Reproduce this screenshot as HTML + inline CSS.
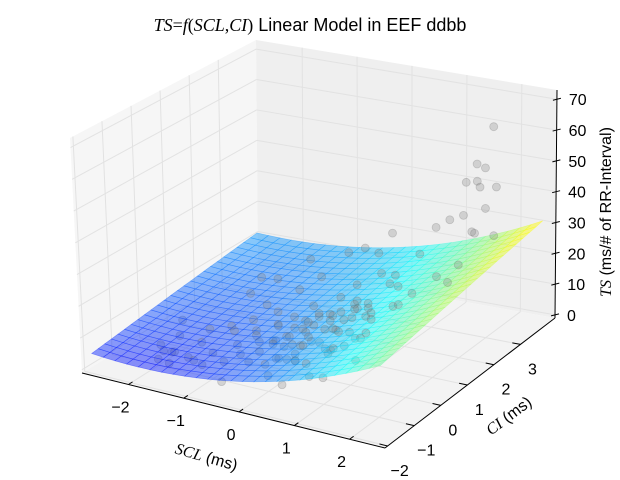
<!DOCTYPE html>
<html><head><meta charset="utf-8"><style>
html,body{margin:0;padding:0;background:#fff}
svg{display:block}
text{font-family:"Liberation Sans",sans-serif;fill:#000}
</style></head><body>
<svg id="chart" width="620" height="480" viewBox="0 0 620 480">
<text x="310" y="31" text-anchor="middle" font-size="18"><tspan font-family="Liberation Serif,serif" font-style="italic">TS</tspan><tspan font-family="Liberation Serif,serif">=</tspan><tspan font-family="Liberation Serif,serif" font-style="italic">f</tspan><tspan font-family="Liberation Serif,serif">(</tspan><tspan font-family="Liberation Serif,serif" font-style="italic">SCL</tspan><tspan font-family="Liberation Serif,serif">,</tspan><tspan font-family="Liberation Serif,serif" font-style="italic">CI</tspan><tspan font-family="Liberation Serif,serif">)</tspan> Linear Model in EEF ddbb</text>
<g id="layer"></g>
<text transform="translate(205,462) rotate(16)" text-anchor="middle" font-size="16"><tspan font-family="Liberation Serif,serif" font-style="italic">SCL</tspan> (ms)</text>
<text transform="translate(512,420) rotate(-37)" text-anchor="middle" font-size="16"><tspan font-family="Liberation Serif,serif" font-style="italic">CI</tspan> (ms)</text>
<text transform="translate(611,212) rotate(-90)" text-anchor="middle" font-size="16"><tspan font-family="Liberation Serif,serif" font-style="italic">TS</tspan> (ms/# of RR-Interval)</text>
</svg>
<script>
const xTicks=[-2,-1,0,1,2];
const yTicks=[-2,-1,0,1,2,3];
const zTicks=[0,10,20,30,40,50,60,70];
const modelCoef=[9.7,3.8,1.3,0.96,0.0,0.08]; // c0 + c1 x + c2 y + c3 x^2 + c4 y^2 + c5 xy
const surfX=[-2.75,2.5];
const surfY=[-1.9,4.1];
const sclVals=[-2.2,-2.0,-1.8,-1.6,-1.5,-1.3,-1.2,-1.1,-1.0,-0.9,-0.8,-0.7,-0.6,-0.5,-0.4,-0.3,-0.2,-0.1,0.0,0.1,0.2,0.3,0.4,0.5,0.6,0.7,0.8,0.9,1.0,1.1,1.2,-1.4,-1.0,-0.6,-0.2,0.2,0.6,1.0,-0.8,-0.4,0.0,0.4,0.8,-1.2,-0.5,0.3,0.9,1.3,1.5,1.7,1.9,2.0,2.1,2.2,1.8,1.6,1.4,2.0,2.2,1.9,1.7,2.1,1.5,1.2,0.8,0.4,-0.3,-0.9,-1.6,-2.3,0.5,0.9,1.3,1.6,1.0,0.2,-0.5,-1.1,0.7,1.1,1.8,2.3,1.4,0.1,-0.7,1.9,2.2,1.6,0.3,-0.1,
-0.3,-0.1,0.1,0.3,0.5,-0.2,0.0,0.2,0.4,0.6,0.8,-0.4,0.1,0.3,0.5,0.7,0.9,-0.6,-0.2,0.2,0.4,0.6,1.0,1.2,-2.0,-1.9,-1.7,-1.5,-1.3,-2.1,0.0,0.2,0.4,-0.1,1.1,1.3,0.9,0.7,-0.5,-0.8];
const ciVals=[-0.5,-0.2,-0.8,0.1,-0.4,0.3,-0.6,0.0,0.5,-0.3,0.2,0.8,-0.1,0.4,-0.5,0.6,0.1,-0.2,0.3,0.7,-0.4,0.0,0.5,-0.1,0.3,0.8,-0.3,0.2,0.6,0.0,0.4,1.2,1.0,1.4,1.1,1.3,1.0,1.5,-1.0,-0.9,-1.1,-0.8,-1.2,1.8,2.0,1.7,1.9,1.2,0.6,0.9,1.4,2.5,2.8,3.0,2.6,3.1,2.4,3.3,2.2,2.9,3.4,1.8,2.7,2.2,1.6,2.3,2.6,2.4,2.0,0.5,-1.5,-1.3,-1.6,-1.0,-0.6,-1.4,-1.7,-1.2,0.9,0.5,0.2,1.0,-0.2,0.7,0.0,3.2,2.9,3.5,3.0,2.8,
-0.2,0.0,0.2,-0.1,0.1,0.4,0.5,0.3,0.6,0.2,0.0,0.1,-0.3,-0.4,0.7,0.4,0.3,0.6,0.8,0.9,-0.5,1.1,0.7,0.4,-1.0,-0.7,-1.2,-0.9,-1.1,-0.6,-0.6,-0.7,-0.8,-0.5,-0.4,-0.2,-0.6,-0.3,0.2,-0.4];
const tsVals=[2,4,3,6,5,7,4,8,9,6,8,11,7,10,7,12,9,8,11,14,8,10,14,11,13,17,11,14,17,14,18,12,11,15,13,16,17,22,5,6,8,9,12,14,16,18,22,24,22,25,28,36,42,48,40,47,36,65,38,55,44,30,37,28,24,25,21,18,12,4,6,9,12,15,14,7,4,4,19,22,26,30,18,13,8,52,33,45,27,22,
8,10,11,12,14,10,12,13,15,14,15,7,10,11,16,16,18,8,10,13,12,15,19,20,1,2,2,3,4,1,7,8,9,6,14,16,12,11,6,4];

const X0=-2.84,X1=2.64,Y0=-2.1,Y1=4.3,Z0=-1,Z1=73;
const P={A:[82,373],B:[385,448],C:[555,318],D:[258,265],Ap:[70,138],Bp:[378,205],Cp:[557,90],Dp:[256,40]};
function lerp(a,b,t){return [a[0]+(b[0]-a[0])*t,a[1]+(b[1]-a[1])*t];}
function proj(x,y,z){
  const tx=(x-X0)/(X1-X0),ty=(y-Y0)/(Y1-Y0),tz=(z-Z0)/(Z1-Z0);
  const b=lerp(lerp(P.A,P.B,tx),lerp(P.D,P.C,tx),ty);
  const t=lerp(lerp(P.Ap,P.Bp,tx),lerp(P.Dp,P.Cp,tx),ty);
  return lerp(b,t,tz);
}
function depth(x,y,z){
  const tx=(x-X0)/(X1-X0),ty=(y-Y0)/(Y1-Y0),tz=(z-Z0)/(Z1-Z0);
  return 0.433*tx-0.75*ty+0.5*tz;
}
function model(x,y){const c=modelCoef;return c[0]+c[1]*x+c[2]*y+c[3]*x*x+c[4]*y*y+c[5]*x*y;}
function jet(v){
  const r=Math.min(Math.max(Math.min(4*v-1.5,-4*v+4.5),0),1);
  const g=Math.min(Math.max(Math.min(4*v-0.5,-4*v+3.5),0),1);
  const b=Math.min(Math.max(Math.min(4*v+0.5,-4*v+2.5),0),1);
  return `rgb(${Math.round(r*255)},${Math.round(g*255)},${Math.round(b*255)})`;
}
const NS="http://www.w3.org/2000/svg";
const layer=document.getElementById('layer');
function mk(tag,attrs,parent){const e=document.createElementNS(NS,tag);for(const k in attrs)e.setAttribute(k,attrs[k]);(parent||layer).appendChild(e);return e;}
function pts(a){return a.map(p=>p[0].toFixed(1)+','+p[1].toFixed(1)).join(' ');}

let e;
e=mk('polygon',{points:pts([proj(X0,Y0,Z0),proj(X0,Y1,Z0),proj(X0,Y1,Z1),proj(X0,Y0,Z1)]),fill:'#f6f6f6'});


e=mk('polygon',{points:pts([proj(X0,Y1,Z0),proj(X1,Y1,Z0),proj(X1,Y1,Z1),proj(X0,Y1,Z1)]),fill:'#efefef'});


e=mk('polygon',{points:pts([proj(X0,Y0,Z0),proj(X1,Y0,Z0),proj(X1,Y1,Z0),proj(X0,Y1,Z0)]),fill:'#f3f3f3'});


const gs={stroke:'#e2e2e2','stroke-width':1,fill:'none'};
function gl(a,b){const l=mk('line',Object.assign({x1:a[0],y1:a[1],x2:b[0],y2:b[1]},gs));}
xTicks.forEach(x=>{gl(proj(x,Y0,Z0),proj(x,Y1,Z0));gl(proj(x,Y1,Z0),proj(x,Y1,Z1));});
yTicks.forEach(y=>{gl(proj(X0,y,Z0),proj(X1,y,Z0));gl(proj(X0,y,Z0),proj(X0,y,Z1));});
zTicks.forEach(z=>{gl(proj(X0,Y0,z),proj(X0,Y1,z));gl(proj(X0,Y1,z),proj(X1,Y1,z));});

function axl(a,b,name){const l=mk('line',{x1:a[0],y1:a[1],x2:b[0],y2:b[1],stroke:'#000','stroke-width':1});}
axl(proj(X0,Y0,Z0),proj(X1,Y0,Z0),'x-axis-line');
axl(proj(X1,Y0,Z0),proj(X1,Y1,Z0),'y-axis-line');
axl(proj(X1,Y1,Z0),proj(X1,Y1,Z1),'z-axis-line');
xTicks.forEach(x=>{
  const a=proj(x,Y0,Z0),b=proj(x,Y0+0.15,Z0);
  const t=mk('line',{x1:a[0],y1:a[1],x2:b[0],y2:b[1],stroke:'#000'});
  
  const l=mk('text',{x:a[0]-8,y:a[1]+28,'text-anchor':'middle','font-size':16});l.textContent=String(x).replace('-','\u2212');
  
});
yTicks.forEach(y=>{
  const a=proj(X1,y,Z0),b=proj(X1-0.15,y,Z0);
  const t=mk('line',{x1:a[0],y1:a[1],x2:b[0],y2:b[1],stroke:'#000'});
  
  const l=mk('text',{x:a[0]+12,y:a[1]+30,'text-anchor':'middle','font-size':16});l.textContent=String(y).replace('-','\u2212');
  
});
zTicks.forEach(z=>{
  const a=proj(X1,Y1,z);
  const t=mk('line',{x1:a[0]-4,y1:a[1]+1,x2:a[0]+4,y2:a[1]-1,stroke:'#000'});
  
  const l=mk('text',{x:a[0]+12,y:a[1]+6,'text-anchor':'start','font-size':16});l.textContent=String(z);
  
});

const items=[];
const N=25;
let zmn=1e9,zmx=-1e9;
for(let i=0;i<=N;i++)for(let j=0;j<=N;j++){const x=surfX[0]+(surfX[1]-surfX[0])*i/N,y=surfY[0]+(surfY[1]-surfY[0])*j/N;const z=model(x,y);zmn=Math.min(zmn,z);zmx=Math.max(zmx,z);}
for(let i=0;i<N;i++)for(let j=0;j<N;j++){
  const xa=surfX[0]+(surfX[1]-surfX[0])*i/N,xb=surfX[0]+(surfX[1]-surfX[0])*(i+1)/N;
  const ya=surfY[0]+(surfY[1]-surfY[0])*j/N,yb=surfY[0]+(surfY[1]-surfY[0])*(j+1)/N;
  const c=[[xa,ya],[xb,ya],[xb,yb],[xa,yb]].map(p=>[p[0],p[1],model(p[0],p[1])]);
  const zc=(c[0][2]+c[1][2]+c[2][2]+c[3][2])/4;
  const xm=(xa+xb)/2,ym=(ya+yb)/2;
  items.push({d:depth(xm,ym,zc),draw:()=>{
    const col=jet(0.14+0.51*(zc-zmn)/(zmx-zmn));
    const q=mk('polygon',{points:pts(c.map(p=>proj(p[0],p[1],p[2]))),fill:col,'fill-opacity':0.45,stroke:col,'stroke-opacity':0.4,'stroke-width':0.6});
    
    
  }});
}
for(let k=0;k<tsVals.length;k++){
  const x=sclVals[k],y=ciVals[k],z=tsVals[k];
  items.push({d:depth(x,y,z),draw:()=>{
    const p=proj(x,y,z);
    const c=mk('circle',{cx:p[0],cy:p[1],r:4,fill:'#808080','fill-opacity':0.28,stroke:'#606060','stroke-opacity':0.25,'stroke-width':0.8});
    
    
  }});
}
items.sort((a,b)=>a.d-b.d).forEach(it=>it.draw());
</script>
</body></html>
